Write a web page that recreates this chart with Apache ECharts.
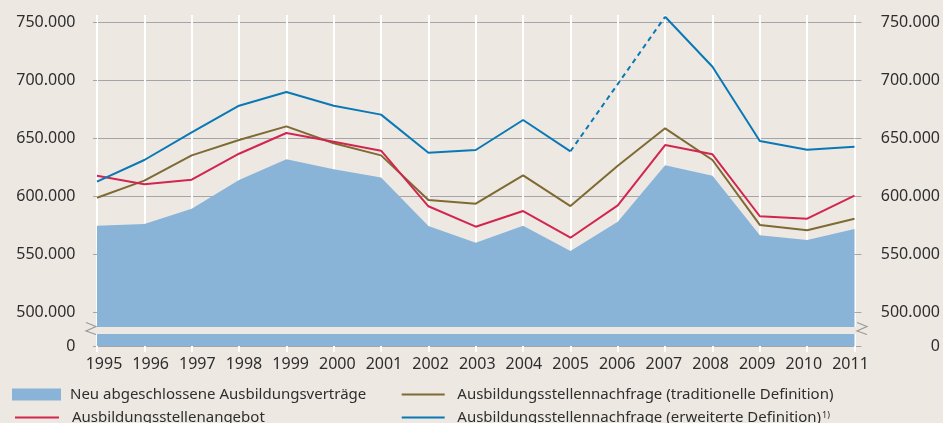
<!DOCTYPE html>
<html>
<head>
<meta charset="utf-8">
<script src="https://cdn.jsdelivr.net/npm/echarts@6/dist/echarts.min.js"></script>
<style>
html,body{margin:0;padding:0;background:#EDE9E2;}
#c{width:943px;height:423px;}
</style>
</head>
<body>
<div id="c"></div>
<script>
const years = ['1995','1996','1997','1998','1999','2000','2001','2002','2003','2004','2005','2006','2007','2008','2009','2010','2011'];
const vertraege = [574700, 576100, 589300, 614100, 631900, 623300, 616100, 574400, 560000, 574700, 552800, 578100, 626700, 617800, 566400, 562300, 571800];
const angebot = [617800, 610300, 614300, 636700, 654600, 647100, 639300, 591400, 573800, 587300, 564300, 592200, 644200, 636200, 582800, 580700, 600500];
const nachfrageTrad = [598800, 613500, 635300, 648500, 660300, 645700, 635300, 596800, 593600, 618100, 591600, 626400, 658600, 631300, 575300, 570700, 580700];
const nachfrageErw = [612600, 631300, 655200, 678100, 689900, 678100, 670400, 637600, 639900, 665800, 638800, null, 754800, 711700, 647700, 640200, 642800];
const yTicks = [500000, 550000, 600000, 650000, 700000, 750000];
const zeroTick = [0];

const names = {
  vertraege: 'Neu abgeschlossene Ausbildungsverträge',
  angebot: 'Ausbildungsstellenangebot',
  trad: 'Ausbildungsstellennachfrage (traditionelle Definition)',
  erw: 'Ausbildungsstellennachfrage (erweiterte Definition)'
};

const C = {
  bg: '#EDE9E2', area: '#89B3D7', red: '#D2254F', brown: '#7F6A34', blue: '#0B78B6',
  grid: '#A4A5A8', text: '#2E2E2E'
};
const FONT = 'Noto Sans';
const fmt = v => String(v).replace(/\B(?=(\d{3})+(?!\d))/g, '.');
const LINE_ICON = 'path://M0,0L44,0L44,2L0,2Z';

// upper (broken) axis range: 500.000 -> y 312.3, 50.000 = 58 px
const upperMin = 487328, upperMax = 756294;
const lowerMax = upperMin;

const chart = echarts.init(document.getElementById('c'), null, {renderer: 'canvas'});

const yLabelBase = {fontFamily: FONT, fontSize: 16, color: C.text, formatter: fmt, padding: [9,0,0,0]};

const legendBase = {
  orient: 'horizontal', padding: 0, itemGap: 0, selectedMode: true, symbolKeepAspect: true,
  textStyle: {fontFamily: FONT, fontSize: 15, color: C.text, lineHeight: 14,
    rich: {sup: {fontFamily: FONT, fontSize: 9, color: C.text, verticalAlign: 'top', lineHeight: 14, padding: [0,0,0,1]}}}
};

chart.setOption({
  backgroundColor: C.bg,
  animation: false,
  textStyle: {fontFamily: FONT},
  grid: [
    {left: 97, right: 87, top: 15, height: 312},
    {left: 97, right: 87, top: 334, height: 12},
    {left: 104, right: 92.5, top: 345, height: 1}
  ],
  xAxis: [
    {gridIndex: 0, type: 'category', data: years, boundaryGap: false,
      axisLine: {show: false}, axisTick: {show: false}, axisLabel: {show: false},
      splitLine: {show: true, interval: 0, lineStyle: {color: '#FFFFFF', width: 2}}},
    {gridIndex: 1, type: 'category', data: years, boundaryGap: false,
      axisLine: {show: true, lineStyle: {color: C.grid, width: 1}},
      axisTick: {show: true, interval: 0, length: 6, lineStyle: {color: '#FFFFFF', width: 2}},
      axisLabel: {show: false},
      splitLine: {show: true, interval: 0, lineStyle: {color: '#FFFFFF', width: 2}}},
    {gridIndex: 2, type: 'category', data: years, boundaryGap: false,
      axisLine: {show: false}, axisTick: {show: false}, splitLine: {show: false},
      axisLabel: {show: true, interval: 0, margin: 10, fontFamily: FONT, fontSize: 16, color: C.text}}
  ],
  yAxis: [
    {gridIndex: 0, type: 'value', position: 'left', min: upperMin, max: upperMax,
      axisLine: {show: false},
      axisTick: {show: true, length: 4, customValues: yTicks, lineStyle: {color: C.grid}},
      axisLabel: Object.assign({}, yLabelBase, {customValues: yTicks, margin: 21.5}),
      splitLine: {show: true, lineStyle: {color: C.grid, width: 1}}},
    {gridIndex: 0, type: 'value', position: 'right', min: upperMin, max: upperMax,
      axisLine: {show: false},
      axisTick: {show: true, length: 7, customValues: yTicks, lineStyle: {color: C.grid}},
      axisLabel: Object.assign({}, yLabelBase, {customValues: yTicks, margin: 85.5, align: 'right'}),
      splitLine: {show: false}},
    {gridIndex: 1, type: 'value', position: 'left', min: 0, max: lowerMax,
      axisLine: {show: false},
      axisTick: {show: true, length: 4, customValues: zeroTick, lineStyle: {color: C.grid}},
      axisLabel: Object.assign({}, yLabelBase, {customValues: zeroTick, margin: 21.5, padding: [4,0,0,0]}),
      splitLine: {show: false}},
    {gridIndex: 1, type: 'value', position: 'right', min: 0, max: lowerMax,
      axisLine: {show: false},
      axisTick: {show: true, length: 7, customValues: zeroTick, lineStyle: {color: C.grid}},
      axisLabel: Object.assign({}, yLabelBase, {customValues: zeroTick, margin: 85.5, align: 'right', padding: [4,0,0,0]}),
      splitLine: {show: false}},
    {gridIndex: 2, type: 'value', show: false}
  ],
  legend: [
    Object.assign({}, legendBase, {left: 12, top: 387, itemWidth: 49, itemHeight: 12,
      data: [{name: names.vertraege, icon: 'rect', itemStyle: {color: C.area}}],
      textStyle: Object.assign({}, legendBase.textStyle, {lineHeight: 12, padding: [0,0,0,4]})}),
    Object.assign({}, legendBase, {left: 15, top: 410, itemWidth: 44, itemHeight: 14,
      data: [{name: names.angebot, icon: LINE_ICON}],
      textStyle: Object.assign({}, legendBase.textStyle, {padding: [0,0,0,8]})}),
    Object.assign({}, legendBase, {left: 401.7, top: 387, itemWidth: 43, itemHeight: 14,
      data: [{name: names.trad, icon: LINE_ICON}],
      textStyle: Object.assign({}, legendBase.textStyle, {padding: [0,0,0,7.6]})}),
    Object.assign({}, legendBase, {left: 401.7, top: 410, itemWidth: 43, itemHeight: 14,
      data: [{name: names.erw, icon: LINE_ICON}],
      formatter: n => n + '{sup|1)}',
      textStyle: Object.assign({}, legendBase.textStyle, {padding: [0,0,0,7.6]})})
  ],
  graphic: [
    {type: 'polyline', silent: true, z: 50, shape: {points: [[86,322.5],[96,326.5],[86,331],[96,334.5]]},
      style: {stroke: '#9A9A9C', lineWidth: 1.2, fill: null}},
    {type: 'polyline', silent: true, z: 50, shape: {points: [[857,322.5],[867,326.5],[857,331],[867,334.5]]},
      style: {stroke: '#9A9A9C', lineWidth: 1.2, fill: null}}
  ],
  series: [
    {name: names.vertraege, type: 'line', xAxisIndex: 0, yAxisIndex: 0, data: vertraege,
      symbol: 'none', lineStyle: {width: 0}, itemStyle: {color: C.area},
      areaStyle: {color: C.area, opacity: 1}, z: 1, silent: true},
    {name: names.vertraege, type: 'line', xAxisIndex: 1, yAxisIndex: 2, data: vertraege,
      symbol: 'none', lineStyle: {width: 0}, itemStyle: {color: C.area},
      areaStyle: {color: C.area, opacity: 1}, z: 1, silent: true},
    {name: names.trad, type: 'line', xAxisIndex: 0, yAxisIndex: 0, data: nachfrageTrad,
      symbol: 'none', itemStyle: {color: C.brown}, lineStyle: {color: C.brown, width: 2}, z: 3},
    {name: names.angebot, type: 'line', xAxisIndex: 0, yAxisIndex: 0, data: angebot,
      symbol: 'none', itemStyle: {color: C.red}, lineStyle: {color: C.red, width: 2}, z: 4},
    {name: names.erw, type: 'line', xAxisIndex: 0, yAxisIndex: 0, data: nachfrageErw,
      symbol: 'none', connectNulls: false, itemStyle: {color: C.blue}, lineStyle: {color: C.blue, width: 2}, z: 5},
    {name: names.erw, type: 'line', xAxisIndex: 0, yAxisIndex: 0,
      data: nachfrageErw.map((v, i) => (i === 10 || i === 12) ? v : null),
      symbol: 'none', connectNulls: true, itemStyle: {color: C.blue},
      lineStyle: {color: C.blue, width: 2, type: [5, 4]}, z: 5}
  ]
});
</script>
</body>
</html>
